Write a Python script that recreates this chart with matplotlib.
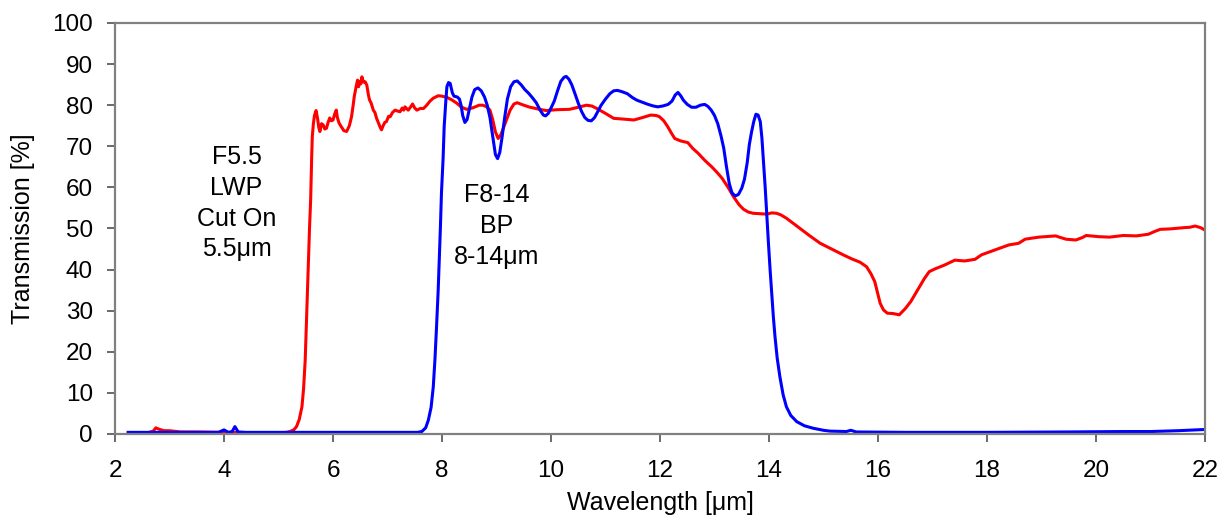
import matplotlib
matplotlib.use("Agg")
import matplotlib.pyplot as plt

plt.rcParams['font.family'] = ['Liberation Sans', 'DejaVu Sans']

# F5.5 LWP (red)
lwp_x = [2.65, 2.70, 2.75, 2.80, 2.90, 3.00, 3.20, 3.50, 4.00, 4.50, 5.00, 5.15, 5.21, 5.28, 5.33, 5.38,
         5.43, 5.46, 5.49, 5.51, 5.53, 5.55, 5.57, 5.59, 5.60, 5.61, 5.62, 5.64, 5.66, 5.69,
         5.72, 5.74, 5.76, 5.79, 5.82, 5.85, 5.88, 5.91, 5.94, 5.97, 6.00, 6.03, 6.06, 6.08, 6.11,
         6.15, 6.20, 6.25, 6.30, 6.34, 6.37, 6.39, 6.42, 6.45, 6.47, 6.49, 6.51, 6.53, 6.56, 6.59,
         6.62, 6.65, 6.67, 6.70, 6.74, 6.77, 6.80, 6.84, 6.87, 6.89, 6.92, 6.95, 6.98, 7.02, 7.05,
         7.09, 7.14, 7.18, 7.23, 7.27, 7.30, 7.32, 7.35, 7.38, 7.42, 7.46, 7.50, 7.54, 7.60, 7.66,
         7.72, 7.78, 7.84, 7.93, 8.00, 8.09, 8.18, 8.27, 8.35, 8.45, 8.55, 8.61, 8.68, 8.75, 8.82,
         8.88, 8.93, 8.98, 9.03, 9.08, 9.16, 9.25, 9.32, 9.38, 9.48, 9.59, 9.75, 9.91, 10.10, 10.34,
         10.50, 10.65, 10.75, 10.84, 11.00, 11.15, 11.35, 11.52, 11.68, 11.83, 11.93, 11.99, 12.07,
         12.14, 12.21, 12.27, 12.38, 12.51, 12.60, 12.70, 12.82, 12.95, 13.05, 13.14, 13.25, 13.35,
         13.45, 13.53, 13.62, 13.71, 13.85, 13.96, 14.05, 14.14, 14.22, 14.32, 14.45, 14.57, 14.75,
         14.94, 15.15, 15.36, 15.52, 15.67, 15.79, 15.87, 15.94, 15.99, 16.04, 16.10, 16.17, 16.28,
         16.39, 16.50, 16.60, 16.68, 16.76, 16.85, 16.94, 17.05, 17.22, 17.41, 17.59, 17.78, 17.90,
         18.15, 18.40, 18.58, 18.70, 18.95, 19.26, 19.35, 19.45, 19.63, 19.75, 19.82, 20.06, 20.25,
         20.50, 20.74, 20.96, 21.08, 21.18, 21.36, 21.61, 21.72, 21.82, 21.92, 22.00]
lwp_y = [0.5, 0.7, 1.5, 1.2, 0.8, 0.8, 0.5, 0.5, 0.4, 0.3, 0.3, 0.4, 0.6, 1.0, 1.8, 3.5,
         6.6, 11.0, 18.0, 26.0, 34.2, 42.0, 50.4, 57.0, 62.6, 68.0, 72.3, 75.5, 77.5, 78.7,
         76.5, 74.5, 73.6, 75.5, 75.2, 74.2, 74.4, 75.8, 76.9, 76.2, 76.4, 77.8, 78.8, 77.0, 75.7,
         74.8, 73.8, 73.6, 75.0, 77.2, 80.0, 82.1, 84.2, 86.1, 84.5, 85.8, 85.2, 86.9, 85.6, 85.7,
         84.9, 82.5, 81.3, 80.5, 78.8, 78.2, 76.8, 75.5, 74.5, 74.0, 75.0, 75.8, 76.0, 77.3, 77.2,
         78.2, 78.8, 78.6, 78.4, 79.3, 78.8, 79.6, 79.2, 78.8, 79.5, 80.3, 79.3, 78.8, 79.2, 79.2,
         80.0, 81.0, 81.7, 82.3, 82.2, 81.9, 81.3, 80.5, 79.6, 79.0, 79.3, 79.6, 80.0, 80.0, 79.6,
         78.8, 76.5, 73.5, 71.9, 72.8, 75.6, 78.8, 80.3, 80.6, 80.1, 79.6, 79.1, 78.7, 78.9, 79.0,
         79.5, 80.0, 79.8, 79.2, 78.0, 76.8, 76.6, 76.4, 77.0, 77.6, 77.5, 77.2, 76.2,
         74.8, 73.2, 71.9, 71.3, 70.9, 69.5, 68.3, 66.6, 65.0, 63.6, 62.2, 60.0, 57.7,
         55.8, 54.7, 54.0, 53.7, 53.6, 53.5, 53.8, 53.7, 53.3, 52.5, 51.2, 50.0, 48.2,
         46.4, 45.0, 43.6, 42.6, 41.8, 40.7, 39.0, 37.1, 34.5, 31.8, 30.2, 29.4, 29.3,
         29.0, 30.5, 32.2, 34.0, 35.8, 37.8, 39.5, 40.2, 41.1, 42.3, 42.1, 42.5, 43.6,
         44.8, 46.0, 46.4, 47.4, 47.9, 48.2, 47.8, 47.4, 47.2, 47.8, 48.3, 48.0, 47.9,
         48.3, 48.2, 48.6, 49.3, 49.8, 49.9, 50.2, 50.3, 50.6, 50.2, 49.6]

# F8-14 BP (blue)
bp_x = [2.24, 3.00, 3.50, 3.90, 4.00, 4.08, 4.15, 4.20, 4.26, 4.40, 5.00, 6.00, 7.00, 7.55, 7.63, 7.70,
        7.75, 7.80, 7.84, 7.87, 7.90, 7.93, 7.95, 7.97, 7.99, 8.02, 8.04, 8.07, 8.09, 8.12, 8.15,
        8.19, 8.22, 8.28, 8.32, 8.35, 8.38, 8.42, 8.46, 8.50, 8.55, 8.60, 8.66, 8.72, 8.78, 8.83,
        8.88, 8.93, 8.98, 9.02, 9.06, 9.10, 9.15, 9.20, 9.26, 9.32, 9.38, 9.45, 9.52, 9.59, 9.66,
        9.73, 9.80, 9.86, 9.90, 9.95, 10.00, 10.06, 10.12, 10.18, 10.24, 10.28, 10.33, 10.38, 10.44,
        10.50, 10.56, 10.62, 10.68, 10.74, 10.80, 10.86, 10.92, 11.00, 11.08, 11.15, 11.22, 11.30,
        11.40, 11.50, 11.58, 11.68, 11.78, 11.88, 11.96, 12.05, 12.15, 12.22, 12.28, 12.33, 12.38,
        12.43, 12.50, 12.58, 12.66, 12.74, 12.82, 12.88, 12.94, 13.00, 13.06, 13.12, 13.17, 13.22,
        13.27, 13.32, 13.38, 13.44, 13.50, 13.55, 13.60, 13.64, 13.68, 13.72, 13.76, 13.80, 13.84,
        13.87, 13.90, 13.93, 13.96, 13.99, 14.02, 14.05, 14.08, 14.11, 14.15, 14.20, 14.26, 14.32,
        14.40, 14.51, 14.65, 14.81, 15.00, 15.12, 15.42, 15.50, 15.60, 16.50, 18.00, 19.50, 20.50,
        21.00, 21.50, 22.00]
bp_y = [0.4, 0.4, 0.4, 0.4, 1.0, 0.4, 0.6, 1.8, 0.5, 0.4, 0.4, 0.4, 0.4, 0.4, 0.6, 1.5,
        3.4, 6.5, 11.5, 18.0, 26.1, 35.0, 42.3, 50.0, 58.6, 67.0, 74.8, 81.0, 84.5, 85.5, 85.3,
        83.0, 82.2, 82.0, 81.5, 80.0, 77.5, 75.8, 76.5, 79.0, 82.0, 83.8, 84.2, 83.5, 82.0, 80.0,
        77.0, 72.5, 68.0, 67.0, 68.5, 72.0, 77.0, 81.5, 84.5, 85.7, 85.9, 85.0, 83.8, 82.9, 81.8,
        80.6, 78.8, 77.6, 77.4, 78.0, 79.3, 81.0, 83.5, 85.8, 86.8, 87.0, 86.3, 85.0, 82.8,
        80.5, 78.5, 77.0, 76.3, 76.2, 77.0, 78.5, 80.0, 81.5, 82.8, 83.5, 83.6, 83.3,
        82.8, 81.8, 81.2, 80.7, 80.2, 79.8, 79.6, 79.8, 80.2, 81.0, 82.5, 83.1, 82.3,
        81.2, 80.2, 79.5, 79.5, 80.0, 80.2, 79.7, 78.8, 77.5, 75.5, 72.5, 69.5, 65.0,
        61.0, 58.7, 57.9, 58.3, 59.8, 62.0, 66.0, 70.5, 73.5, 76.0, 77.8, 77.6, 76.0,
        72.0, 66.0, 60.0, 53.0, 46.4, 40.0, 34.2, 28.5, 23.7, 18.5, 13.9, 9.5, 6.6,
        4.5, 3.0, 2.0, 1.4, 0.9, 0.7, 0.6, 0.9, 0.5, 0.4, 0.4, 0.5, 0.6,
        0.6, 0.8, 1.1]

x_ticks = [2, 4, 6, 8, 10, 12, 14, 16, 18, 20, 22]
y_ticks = [0, 10, 20, 30, 40, 50, 60, 70, 80, 90, 100]

W, H = 1222, 517
fig = plt.figure(figsize=(W / 100, H / 100), dpi=100)
ax = fig.add_axes([115 / W, 1 - 434 / H, (1205 - 115) / W, (434 - 23) / H])

ax.plot(lwp_x, lwp_y, color='#ff0000', lw=2.2, solid_joinstyle='round')
ax.plot(bp_x, bp_y, color='#0000ff', lw=2.2, solid_joinstyle='round')

ax.set_xlim(2, 22)
ax.set_ylim(0, 100)
ax.set_xticks(x_ticks)
ax.set_yticks(y_ticks)
ax.tick_params(axis='both', labelsize=17.5, length=6, width=1.2, color='#505050', direction='out')
ax.tick_params(axis='x', pad=13)
ax.tick_params(axis='y', pad=10)
for s in ax.spines.values():
    s.set_color('#808080')
    s.set_linewidth(1.6)

ax.set_xlabel('Wavelength [μm]', fontsize=18, labelpad=6)
ax.set_ylabel('Transmission [%]', fontsize=18, labelpad=12)

ax.text(4.23, 56.1, 'F5.5\nLWP\nCut On\n5.5μm', ha='center', va='center', fontsize=18, linespacing=1.35)
ax.text(9.0, 50.6, 'F8-14\nBP\n8-14μm', ha='center', va='center', fontsize=18, linespacing=1.35)

fig.savefig('out.png', dpi=100)
